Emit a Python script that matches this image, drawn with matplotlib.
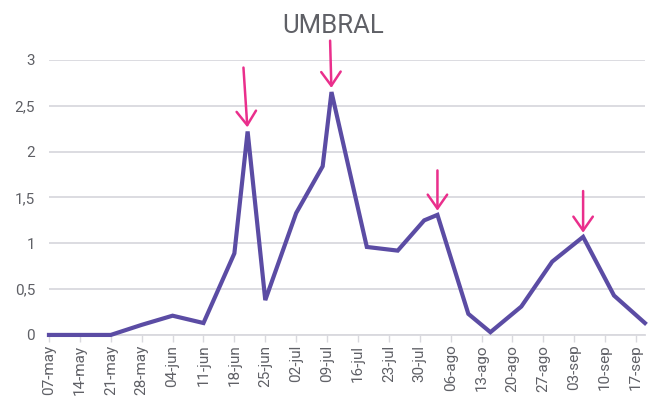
import numpy as np
import pandas as pd
import matplotlib
matplotlib.use("Agg")
import matplotlib.pyplot as plt
import matplotlib.ticker as mticker

# data (2023 dates, dd-mm)
fechas = ["07-05", "14-05", "21-05", "28-05", "04-06", "11-06", "18-06", "21-06",
          "25-06", "02-07", "08-07", "10-07", "18-07", "25-07", "31-07", "03-08",
          "10-08", "15-08", "22-08", "29-08", "05-09", "12-09", "19-09"]
umbral = [0, 0, 0, 0.11, 0.21, 0.13, 0.89, 2.22,
          0.38, 1.33, 1.84, 2.65, 0.96, 0.92, 1.25, 1.31,
          0.23, 0.03, 0.31, 0.80, 1.07, 0.43, 0.13]

tick_fechas = ["07-05", "14-05", "21-05", "28-05", "04-06", "11-06", "18-06",
               "25-06", "02-07", "09-07", "16-07", "23-07", "30-07", "06-08",
               "13-08", "20-08", "27-08", "03-09", "10-09", "17-09"]
tick_labels = ["07-may", "14-may", "21-may", "28-may", "04-jun", "11-jun", "18-jun",
               "25-jun", "02-jul", "09-jul", "16-jul", "23-jul", "30-jul", "06-ago",
               "13-ago", "20-ago", "27-ago", "03-sep", "10-sep", "17-sep"]

# peaks marked with arrows (index into the series)
picos = [7, 11, 15, 20]

x = pd.to_datetime([f + "-2023" for f in fechas], format="%d-%m-%Y")
xt = pd.to_datetime([f + "-2023" for f in tick_fechas], format="%d-%m-%Y")

plt.rcParams['font.family'] = ['Roboto', 'DejaVu Sans']
gris = '#5f6066'

fig = plt.figure(figsize=(6.69, 4.13), dpi=100)
ax = fig.add_axes([0.0732, 0.189, 0.8908, 0.6658])

ax.plot(x, umbral, color='#5b4ca4', lw=3, solid_joinstyle='miter', zorder=3,
        clip_on=False)

# arrows
offs = [(-3, 46), (-1, 37), (0, 32), (0, 33)]
for i, (dx, dy) in zip(picos, offs):
    ax.annotate('', xy=(x[i], umbral[i]), xytext=(dx, dy), textcoords='offset points',
                arrowprops=dict(arrowstyle='->,head_length=0.5,head_width=0.35',
                                color='#ea2f8c', lw=1.8, shrinkA=0, shrinkB=3,
                                mutation_scale=20),
                annotation_clip=False, zorder=4)

ax.set_xlim(x[0], x[-1])
ax.set_ylim(0, 3)
ax.set_yticks(np.arange(0, 3.01, 0.5))
ax.yaxis.set_major_formatter(mticker.FuncFormatter(
    lambda v, p: ('%g' % v).replace('.', ',')))
ax.set_xticks(xt)
ax.set_xticklabels(tick_labels, rotation=90)

ax.grid(axis='y', color='#d9d9de', lw=1.3)
ax.set_axisbelow(True)
for s in ['top', 'right', 'left']:
    ax.spines[s].set_visible(False)
ax.spines['bottom'].set_color('#d9d9de')
ax.spines['bottom'].set_linewidth(1.3)

ax.tick_params(axis='y', length=0, pad=10, labelsize=11, labelcolor=gris)
ax.tick_params(axis='x', length=5, width=1, color='#d9d9de', pad=2,
               labelsize=11, labelcolor=gris)

fig.text(0.498, 0.937, 'UMBRAL', ha='center', va='center', fontsize=18.5, color=gris)

fig.savefig('out.png', dpi=100)
